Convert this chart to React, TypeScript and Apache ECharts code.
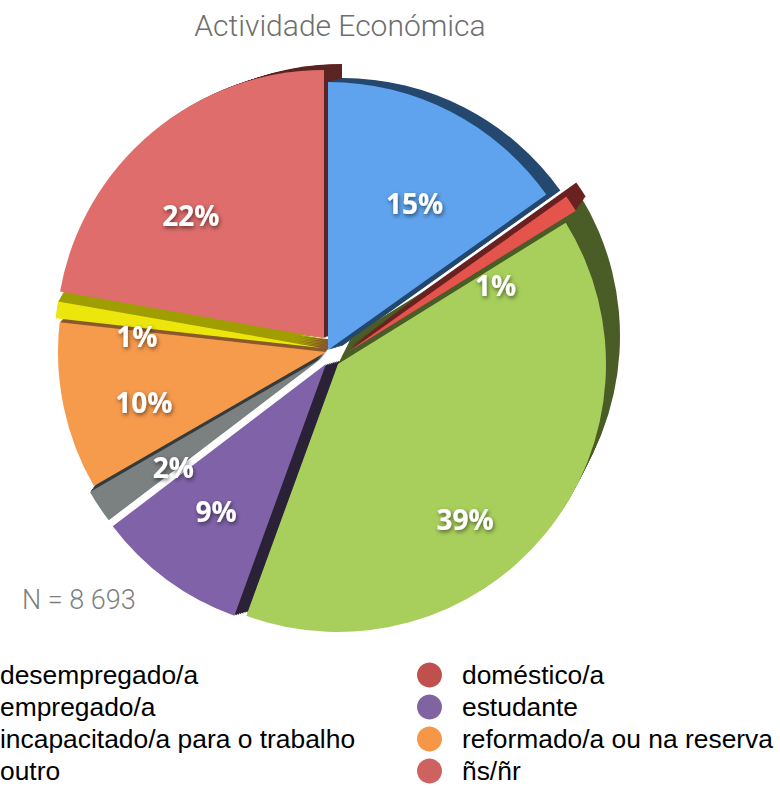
import React, { useEffect, useRef } from 'react';
import * as echarts from 'echarts';

// ---- data ----
const categories = [
  'desempregado/a',
  'doméstico/a',
  'empregado/a',
  'estudante',
  'incapacitado/a para o trabalho',
  'reformado/a ou na reserva',
  'outro',
  'ñs/ñr',
];
const values = [15, 1, 39, 9, 2, 10, 1, 22];
const legendLeftNames = ['desempregado/a', 'empregado/a', 'incapacitado/a para o trabalho', 'outro'];
const legendRightNames = ['doméstico/a', 'estudante', 'reformado/a ou na reserva', 'ñs/ñr'];
const titleText = 'Actividade Económica';
const noteText = 'N = 8 693';

// ---- styling ----
const faceColors = ['#5fa3ee', '#e4544d', '#a8cf5c', '#7f62a8', '#7b8081', '#f69a4c', '#ece60c', '#de6d6b'];
const wallColors = ['#25496f', '#6c2222', '#4a5d26', '#2b2238', '#363c3d', '#8a5a2a', '#a09e00', '#5a2522'];
const legendColors = ['#4f81bd', '#c0504d', '#9bbb59', '#8064a2', '#7f7f7f', '#f79646', '#e8e000', '#cd6260'];

const CX = 334;
const CY = 348;
const R = 268;
const explode: number[][] = [[-6, 2], [14, 4], [4, 16], [-8, 16], [-12, 10], [-8, 4], [-12, 0], [-10, -10]];
const depth: number[][] = [[14, -4], [10, -14], [14, -28], [22, -6], [10, -14], [10, -12], [8, -14], [18, -6]];
const labelCenters: number[][] = [[329, 369], [340, 389], [320, 401], [327, 360], [329, 363], [327, 364], [322, 363], [311, 358]];
const LAYERS = 10;

function sliceData(i: number, color: string, showLabel: boolean) {
  return categories.map((name, j) => ({
    name,
    value: values[j],
    itemStyle: { color: j === i ? color : 'rgba(0,0,0,0)', borderWidth: 0 },
    label: { show: showLabel && j === i },
  }));
}

const basePie = {
  type: 'pie',
  startAngle: 90,
  clockwise: true,
  silent: true,
  avoidLabelOverlap: false,
  labelLine: { show: false },
  emphasis: { disabled: true },
};

function buildSeries() {
  const series: any[] = [];
  for (let k = LAYERS; k >= 1; k--) {
    for (let i = 0; i < categories.length; i++) {
      series.push({
        ...basePie,
        center: [CX + explode[i][0] + (depth[i][0] * k) / LAYERS, CY + explode[i][1] + (depth[i][1] * k) / LAYERS],
        radius: R,
        label: { show: false },
        data: sliceData(i, wallColors[i], false),
      });
    }
  }
  for (let i = 0; i < categories.length; i++) {
    series.push({
      ...basePie,
      center: [CX + explode[i][0], CY + explode[i][1]],
      radius: R,
      label: { show: false },
      data: sliceData(i, faceColors[i], false),
    });
  }
  for (let i = 0; i < categories.length; i++) {
    series.push({
      ...basePie,
      center: labelCenters[i],
      radius: [100, R],
      label: {
        position: 'inside',
        formatter: '{c}%',
        color: '#ffffff',
        fontSize: 28,
        fontWeight: 'bold',
        fontFamily: 'Open Sans',
        textShadowColor: 'rgba(0,0,0,0.55)',
        textShadowBlur: 4,
        textShadowOffsetX: 1,
        textShadowOffsetY: 2,
      },
      data: sliceData(i, 'rgba(0,0,0,0)', true),
    });
  }
  return series;
}

function legendBlock(names: string[], left: number) {
  return {
    orient: 'vertical',
    left,
    top: 662,
    height: 150,
    padding: 0,
    itemWidth: 25,
    itemHeight: 25,
    itemGap: 6,
    icon: 'circle',
    selectedMode: false,
    textStyle: {
      fontSize: 26.4,
      lineHeight: 24,
      color: '#000',
      fontFamily: 'Liberation Sans',
      padding: [0, 0, 0, 15],
    },
    data: names.map((n) => ({ name: n, itemStyle: { color: legendColors[categories.indexOf(n)] } })),
  };
}

export default function App() {
  const ref = useRef<HTMLDivElement>(null);
  useEffect(() => {
    if (!ref.current) return;
    const chart = echarts.init(ref.current, undefined, { renderer: 'svg' });
    chart.setOption({
      animation: false,
      backgroundColor: '#ffffff',
      legend: [legendBlock(legendLeftNames, -45), legendBlock(legendRightNames, 417)],
      graphic: [
        {
          type: 'text',
          x: 340,
          y: 25,
          style: {
            text: titleText,
            fill: '#6e6e6e',
            fontSize: 30,
            fontWeight: 300,
            fontFamily: 'Roboto',
            textAlign: 'center',
            textVerticalAlign: 'middle',
          },
        },
        {
          type: 'text',
          x: 22,
          y: 600,
          style: {
            text: noteText,
            fill: '#7f7f7f',
            fontSize: 27,
            fontWeight: 300,
            fontFamily: 'Roboto',
            textAlign: 'left',
            textVerticalAlign: 'middle',
          },
        },
      ],
      series: buildSeries(),
    });
    return () => chart.dispose();
  }, []);
  return <div ref={ref} style={{ position: 'fixed', left: 0, top: 0, width: 780, height: 788 }} />;
}
